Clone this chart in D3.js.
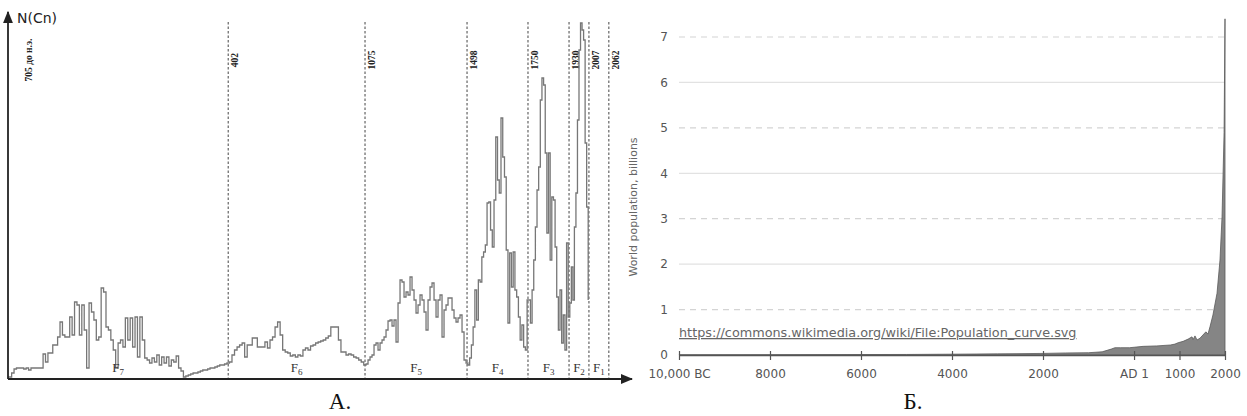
<!DOCTYPE html>
<html>
<head>
<meta charset="utf-8">
<script src="https://cdn.jsdelivr.net/npm/d3@7"></script>
<style>
body { margin: 0; background: #fff; }
svg { display: block; }
</style>
</head>
<body>
<svg id="chart" width="1247" height="416"></svg>
<script>
// Panel A: cycle boundaries (years) and N(Cn) values per phase
var eraYears = [-705, 402, 1075, 1498, 1750, 1930, 2007, 2062];
var eraLabels = ["705 до н.э.", "402", "1075", "1498", "1750", "1930", "2007", "2062"];
var phaseNumbers = ["7", "6", "5", "4", "3", "2", "1"];

var f7Values = [0.2, 0.6, 1.0, 1.1, 1.1, 1.1, 1.0, 1.1, 0.9, 1.1, 1.1, 1.1, 1.1, 1.1,
    2.5, 1.7, 2.6, 2.6, 3.4, 3.4, 4.2, 5.7, 4.4, 4.2, 4.2, 6.2, 4.4, 7.7, 7.4, 4.4, 7.4, 4.9, 1.1, 7.6,
    6.7, 5.9, 3.9, 4.2, 9.1, 8.7, 5.2, 4.9, 3.9, 2.9, 1.1, 3.6, 3.9, 3.2, 6.1, 3.9, 6.1, 3.2, 6.2, 2.2,
    6.2, 3.9, 2.1, 1.9, 1.6, 2.1, 1.7, 2.4, 1.4, 2.2, 1.6, 2.2, 1.3, 1.9, 1.7, 2.3, 1.1, 0.8,
    0.2, 0.3, 0.4, 0.5, 0.6, 0.6, 0.7, 0.8, 0.9, 0.9, 1.0, 1.1, 1.1, 1.2, 1.3, 1.4, 1.4, 1.5, 1.6];
var f6Values = [1.7, 2.4, 2.9, 3.2, 3.4, 3.6, 2.2, 3.4, 3.4, 4.1, 4.1, 3.2, 3.2, 3.2, 3.7, 3.1, 3.9, 4.2,
    5.2, 5.7, 4.4, 2.9, 2.7, 2.6, 2.3, 2.4, 2.2, 2.4, 2.3, 2.9, 3.1, 2.9, 3.3, 3.4, 3.6, 3.7, 3.8, 3.9,
    4.1, 4.3, 5.2, 5.2, 5.2, 3.9, 2.7, 2.7, 2.4, 2.5, 2.4, 2.2, 2.1, 1.9, 1.7, 1.4];
var f5Values = [1.5, 1.9, 2.2, 2.4, 3.4, 3.6, 2.9, 3.6, 3.9, 4.2, 4.9, 5.8, 5.9, 5.3, 5.9, 3.7, 7.6,
    9.9, 9.7, 8.2, 8.7, 8.4, 10.2, 8.9, 7.9, 6.6, 7.4, 8.4, 7.9, 6.7, 4.9, 7.9, 9.2, 9.6, 7.9, 6.2,
    7.9, 8.4, 4.2, 6.9, 7.4, 8.1, 8.1, 6.9, 6.1, 5.7, 6.1, 6.4, 4.7, 1.9, 1.6];
var f4Values = [1.4, 2.1, 3.4, 5.2, 8.9, 5.9, 9.9, 9.7, 12.2, 12.7, 13.4, 17.6, 17.7, 14.9, 13.2, 17.9,
    24.2, 19.9, 18.6, 26.1, 22.2, 20.2, 12.9, 5.6, 12.6, 9.2, 12.7, 8.9, 8.2, 6.2, 3.9, 5.4, 3.2, 2.9, 7.9];
var f3Values = [7.9, 5.6, 8.9, 11.9, 15.2, 18.9, 21.2, 27.9, 30.1, 29.4, 22.6, 14.6, 22.6, 11.9, 18.2,
    17.9, 13.2, 8.2, 4.9, 8.9, 3.6, 6.4, 2.9, 13.6, 6.2];
var f2Values = [7.6, 11.2, 7.9, 15.2, 18.6, 25.9, 32.9, 35.6, 34.9, 33.9, 23.6, 17.2, 7.9];

// Panel B: world population, billions
var popYears = [-10000, -8000, -6000, -5000, -4000, -3000, -2000, -1500, -1000, -700, -500, -420, -300,
    -100, 1, 200, 500, 800, 900, 970, 1080, 1190, 1275, 1300, 1340, 1385, 1450, 1515, 1580, 1625, 1670,
    1735, 1825, 1890, 1935, 1980, 2000];
var popBillions = [0.004, 0.006, 0.01, 0.012, 0.018, 0.025, 0.035, 0.045, 0.05, 0.07, 0.13, 0.16, 0.16,
    0.16, 0.17, 0.19, 0.2, 0.22, 0.24, 0.27, 0.3, 0.35, 0.4, 0.34, 0.42, 0.33, 0.37, 0.44, 0.51, 0.46, 0.62,
    0.88, 1.36, 2.09, 3.04, 4.9, 7.4];
var popTicksX = [-10000, -8000, -6000, -4000, -2000, 1, 1000, 2000];
var popTicksY = [0, 1, 2, 3, 4, 5, 6, 7];
var sourceUrl = "https://commons.wikimedia.org/wiki/File:Population_curve.svg";

var svg = d3.select('#chart');
svg.append('rect').attr('width', 1247).attr('height', 416).attr('fill', '#fff');

var defs = svg.append('defs');
defs.append('marker')
    .attr('id', 'arrow')
    .attr('viewBox', '0 0 10 10')
    .attr('refX', 9).attr('refY', 5)
    .attr('markerWidth', 7).attr('markerHeight', 7)
    .attr('orient', 'auto')
    .append('path').attr('d', 'M0,1 L10,5 L0,9 Z').attr('fill', '#222');

// ---------- panel A ----------
var axX0 = 8, axY0 = 379, axLen = 622;
var eraStops = [0, 0.354, 0.574, 0.738, 0.836, 0.902, 0.934, 0.966];

var xA = d3.scaleLinear()
    .domain(eraYears)
    .range(eraStops.map(function(f) { return axX0 + f * axLen; }));
var yA = d3.scaleLinear().domain([0, 36]).range([axY0, 19]);

var phases = [f7Values, f6Values, f5Values, f4Values, f3Values, f2Values];
var series = [{t: eraYears[0], v: f7Values[0]}];
phases.forEach(function(vals, k) {
    var t0 = eraYears[k], t1 = eraYears[k + 1];
    vals.forEach(function(v, i) {
        series.push({t: t0 + (i + 0.5) * (t1 - t0) / vals.length, v: v});
    });
});

var gA = svg.append('g');

// dashed boundaries
gA.selectAll('line.era')
    .data(eraYears.slice(1))
    .enter().append('line')
    .attr('class', 'era')
    .attr('x1', function(d) { return xA(d); })
    .attr('x2', function(d) { return xA(d); })
    .attr('y1', 22).attr('y2', axY0)
    .attr('stroke', '#444')
    .attr('stroke-width', 1)
    .attr('stroke-dasharray', '2.5,2');

gA.selectAll('text.era')
    .data(eraLabels)
    .enter().append('text')
    .attr('class', 'era')
    .attr('transform', function(d, i) {
        var x = xA(eraYears[i]) + (i === 0 ? 24 : 10);
        return 'translate(' + x + ',60) rotate(-90)';
    })
    .attr('text-anchor', 'middle')
    .attr('font-family', 'Liberation Serif, serif')
    .attr('font-weight', 'bold')
    .attr('font-size', 9.5)
    .attr('fill', '#222')
    .text(function(d) { return d; });

var lineA = d3.line()
    .x(function(d) { return xA(d.t); })
    .y(function(d) { return yA(d.v); })
    .curve(d3.curveStepAfter);

gA.append('path')
    .datum(series)
    .attr('d', lineA)
    .attr('fill', 'none')
    .attr('stroke', '#777')
    .attr('stroke-width', 1.3);

// phase names F7..F1
var phaseText = gA.selectAll('text.phase')
    .data(phaseNumbers)
    .enter().append('text')
    .attr('class', 'phase')
    .attr('x', function(d, i) { return (xA(eraYears[i]) + xA(eraYears[i + 1])) / 2; })
    .attr('y', 372)
    .attr('text-anchor', 'middle')
    .attr('font-family', 'Liberation Serif, serif')
    .attr('font-size', 13)
    .attr('fill', '#333');
phaseText.append('tspan').text('F');
phaseText.append('tspan').attr('font-size', 9).attr('dy', 3).text(function(d) { return d; });

// axes with arrows
gA.append('line')
    .attr('x1', axX0).attr('y1', axY0).attr('x2', axX0).attr('y2', 12)
    .attr('stroke', '#222').attr('stroke-width', 1.8)
    .attr('marker-end', 'url(#arrow)');
gA.append('line')
    .attr('x1', axX0).attr('y1', axY0).attr('x2', axX0 + axLen + 2).attr('y2', axY0)
    .attr('stroke', '#222').attr('stroke-width', 1.8)
    .attr('marker-end', 'url(#arrow)');

gA.append('text')
    .attr('x', 17).attr('y', 23)
    .attr('font-family', 'DejaVu Sans, sans-serif')
    .attr('font-size', 14)
    .attr('fill', '#222')
    .text('N(Cn)');

gA.append('text')
    .attr('x', 340).attr('y', 409)
    .attr('text-anchor', 'middle')
    .attr('font-family', 'Liberation Serif, serif')
    .attr('font-size', 23)
    .attr('fill', '#111')
    .text('А.');

// ---------- panel B ----------
var xB = d3.scaleLinear().domain([-10000, 2000]).range([679, 1225]);
var yB = d3.scaleLinear().domain([0, 7]).range([355, 37]);
var gB = svg.append('g');

gB.selectAll('line.grid')
    .data(popTicksY.slice(1))
    .enter().append('line')
    .attr('class', 'grid')
    .attr('x1', xB(-10000)).attr('x2', xB(2000))
    .attr('y1', function(d) { return yB(d); })
    .attr('y2', function(d) { return yB(d); })
    .attr('stroke', function(d) { return d % 2 ? '#d4d4d4' : '#e2e2e2'; })
    .attr('stroke-width', 1.2)
    .attr('stroke-dasharray', function(d) { return d % 2 ? '6,5' : null; });

var pop = popYears.map(function(y, i) { return {year: y, value: popBillions[i]}; });
var area = d3.area()
    .x(function(d) { return xB(d.year); })
    .y0(yB(0))
    .y1(function(d) { return yB(d.value); });

gB.append('path')
    .datum(pop)
    .attr('d', area)
    .attr('fill', '#858585')
    .attr('stroke', '#5a5a5a')
    .attr('stroke-width', 0.8);

gB.append('text')
    .attr('x', xB(-10000)).attr('y', 337)
    .attr('font-family', 'DejaVu Sans, sans-serif')
    .attr('font-size', 12.8)
    .attr('fill', '#666')
    .attr('text-decoration', 'underline')
    .text(sourceUrl);

var xAxisB = d3.axisBottom(xB)
    .tickValues(popTicksX)
    .tickSizeInner(5)
    .tickSizeOuter(0)
    .tickPadding(9)
    .tickFormat(function(d) {
        if (d === -10000) return '10,000 BC';
        if (d < 0) return String(-d);
        if (d === 1) return 'AD 1';
        return String(d);
    });

var gx = gB.append('g')
    .attr('transform', 'translate(0,' + yB(0) + ')')
    .call(xAxisB);
gx.select('.domain').attr('stroke', '#555').attr('stroke-width', 1.5);
gx.selectAll('.tick line').attr('y1', -4).attr('stroke', '#555').attr('stroke-width', 1.2);
gx.selectAll('.tick text')
    .attr('font-family', 'DejaVu Sans, sans-serif')
    .attr('font-size', 12)
    .attr('fill', '#555');

var yAxisB = d3.axisLeft(yB)
    .tickValues(popTicksY)
    .tickFormat(d3.format('d'))
    .tickSize(0)
    .tickPadding(11);
var gy = gB.append('g')
    .attr('transform', 'translate(' + xB(-10000) + ',0)')
    .call(yAxisB);
gy.select('.domain').remove();
gy.selectAll('.tick text')
    .attr('font-family', 'DejaVu Sans, sans-serif')
    .attr('font-size', 12)
    .attr('fill', '#555');

gB.append('text')
    .attr('transform', 'translate(637,207) rotate(-90)')
    .attr('text-anchor', 'middle')
    .attr('font-family', 'DejaVu Sans, sans-serif')
    .attr('font-size', 11)
    .attr('fill', '#666')
    .text('World population, billions');

gB.append('text')
    .attr('x', 913).attr('y', 409)
    .attr('text-anchor', 'middle')
    .attr('font-family', 'Liberation Serif, serif')
    .attr('font-size', 23)
    .attr('fill', '#111')
    .text('Б.');
</script>
</body>
</html>
